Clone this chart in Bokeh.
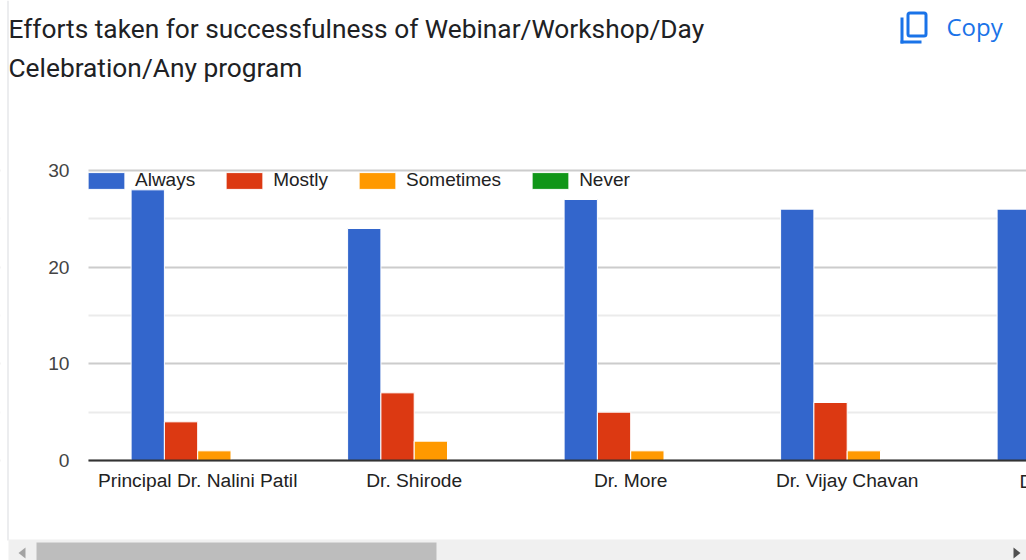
from bokeh.embed import file_html
from bokeh.resources import INLINE
from bokeh.plotting import figure
from bokeh.models import (ColumnDataSource, Range1d, FixedTicker, Legend, LegendItem,
                          Label, BoxAnnotation, PolyAnnotation)

categories = ["Principal Dr. Nalini Patil", "Dr. Shirode", "Dr. More", "Dr. Vijay Chavan", "Dr."]
always = [28, 24, 27, 26, 26]
mostly = [4, 7, 5, 6, float("nan")]
sometimes = [1, 2, 1, 1, float("nan")]
never = [0, 0, 0, 0, float("nan")]
series_names = ["Always", "Mostly", "Sometimes", "Never"]
series_colors = ["#3366cc", "#dc3912", "#ff9900", "#109618"]
y_ticks = [0, 10, 20, 30]
y_minor = [5, 15, 25]
title_lines = ["Efforts taken for successfulness of Webinar/Workshop/Day", "Celebration/Any program"]

W, H = 1026, 560
px_per_cat = 216.5
frame_l, frame_t, frame_b = 88, 170, 460
first_center = 197.2
bar_w = 33.3 / px_per_cat
px_per_y = (frame_b - frame_t) / 30


def dx(px):
    return (px - first_center) / px_per_cat


def dy(py):
    return (frame_b - py) / px_per_y


p = figure(width=W, height=H, output_backend="svg", toolbar_location=None,
           x_range=Range1d(dx(0), dx(W)),
           y_range=Range1d(dy(H), dy(0)),
           min_border_left=0, min_border_right=0, min_border_top=0, min_border_bottom=0,
           outline_line_color=None, background_fill_color="white", border_fill_color="white")

x = list(range(len(categories)))
items = []
for i, (name, vals, col) in enumerate(zip(series_names, [always, mostly, sometimes, never], series_colors)):
    src = ColumnDataSource(dict(x=[v + (i - 1.5) * bar_w for v in x], top=vals))
    r = p.vbar(x="x", top="top", bottom=0, width=bar_w, source=src, fill_color=col,
               line_color="white", line_width=1)
    items.append(LegendItem(label=name, renderers=[r]))

p.xgrid.visible = False
p.ygrid.ticker = FixedTicker(ticks=y_ticks, minor_ticks=y_minor)
p.ygrid.grid_line_color = "#cccccc"
p.ygrid.grid_line_width = 2
p.ygrid.minor_grid_line_color = "#ebebeb"
p.ygrid.minor_grid_line_width = 2

p.yaxis.fixed_location = dx(frame_l)
p.yaxis.bounds = (0, 30)
p.yaxis.ticker = FixedTicker(ticks=y_ticks)
p.yaxis.axis_line_color = None
p.yaxis.major_tick_line_color = None
p.yaxis.minor_tick_line_color = None
p.yaxis.major_label_text_font = "Liberation Sans"
p.yaxis.major_label_text_font_size = "19.2px"
p.yaxis.major_label_text_color = "#444444"
p.yaxis.major_label_standoff = 13

p.xaxis.fixed_location = 0
p.xaxis.bounds = (dx(frame_l), dx(W))
p.xaxis.ticker = FixedTicker(ticks=x[:4])
p.xaxis.major_label_overrides = {i: c for i, c in enumerate(categories)}
p.xaxis.axis_line_color = "#333333"
p.xaxis.axis_line_width = 2
p.xaxis.major_tick_line_color = None
p.xaxis.minor_tick_line_color = None
p.xaxis.major_label_text_font = "Liberation Sans"
p.xaxis.major_label_text_font_size = "19.2px"
p.xaxis.major_label_text_color = "#222222"
p.xaxis.major_label_standoff = 3

legend = Legend(items=items, orientation="horizontal", location=(83, 369), glyph_width=46, glyph_height=21,
                spacing=26, label_standoff=6, padding=0, margin=0, border_line_color=None,
                background_fill_alpha=0, label_text_font="Liberation Sans",
                label_text_font_size="19px", label_text_color="#222222", label_height=21)
p.add_layout(legend, "center")


def box(l, r, t, b, col, level="overlay"):
    p.add_layout(BoxAnnotation(left=dx(l), right=dx(r), top=dy(t), bottom=dy(b), fill_color=col, fill_alpha=1,
                               line_color=None, level=level))


def poly(xs, ys, col):
    p.add_layout(PolyAnnotation(xs=[dx(v) for v in xs], ys=[dy(v) for v in ys], fill_color=col,
                                fill_alpha=1, line_color=None, level="overlay"))


# hide the grid rules left of the plot area, under the tick labels
box(0, frame_l, 120, 500, "white", level="underlay")

for line, top in zip(title_lines, [13, 52]):
    p.add_layout(Label(x=dx(8), y=dy(top), text=line, text_font="Roboto",
                       text_font_size="26.3px", text_color="#202124", text_baseline="top"))
p.add_layout(Label(x=dx(946), y=dy(9), text="Copy", text_font="Open Sans",
                   text_font_size="24px", text_color="#1a73e8", text_baseline="top"))
p.add_layout(Label(x=dx(1019), y=dy(470), text=categories[4],
                   text_font="Liberation Sans", text_font_size="19.2px", text_color="#222222", text_baseline="top"))

# copy icon
box(900, 903, 17, 43, "#1a73e8")
box(900, 921, 40, 43, "#1a73e8")
p.add_layout(BoxAnnotation(left=dx(907.5), right=dx(925.5), top=dy(12.5), bottom=dy(35.5), fill_alpha=0,
                           line_color="#1a73e8", line_alpha=1, line_width=3, border_radius=2, level="overlay"))
# chart card border and scrollbar
box(7, 8, 0, 540, "#dadce0")
box(8, 1026, 539, 560, "#f0f0f0")
box(36, 436, 542, 560, "#bdbdbd")
poly([25, 25, 18], [547, 558, 552.5], "#a3a3a3")
poly([1013, 1013, 1020], [547, 558, 552.5], "#505050")

open("out.html", "w").write(file_html(p, INLINE))
